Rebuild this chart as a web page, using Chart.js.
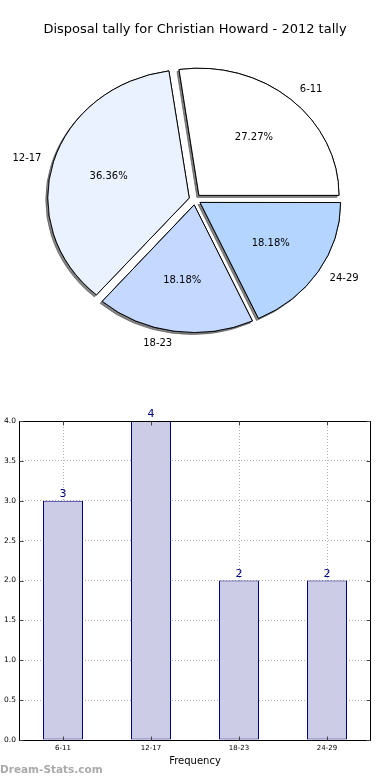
<!DOCTYPE html>
<html>
<head>
<meta charset="utf-8">
<script src="https://cdn.jsdelivr.net/npm/chart.js@4/dist/chart.umd.min.js"></script>
<style>
  body { margin: 0; background: #fff; width: 390px; height: 780px; position: relative; overflow: hidden; }
  #pie { position: absolute; left: 0; top: 0; }
  #bar { position: absolute; left: 0; top: 400px; }
  .mark { position: absolute; left: 0; top: 763px; font: bold 10.5px "DejaVu Sans"; color: #aaa; }
</style>
</head>
<body>
<canvas id="pie" width="390" height="400"></canvas>
<canvas id="bar" width="390" height="380"></canvas>
<div class="mark">Dream-Stats.com</div>
<script>
'use strict';

const categories = ['6-11', '12-17', '18-23', '24-29'];
const tally = [3, 4, 2, 2];
const sliceColors = ['#ffffff', '#eaf1ff', '#c5d8ff', '#b3d5ff'];
const yTicks = [0, 0.5, 1, 1.5, 2, 2.5, 3, 3.5, 4];

const FONT = 'DejaVu Sans';
const RADIUS = 140;
const EXPLODE = 6;
const squash = 128 / 141;   // the original pie is a bit flatter than round

// flip + squash the pie so it runs counter-clockwise from 3 o'clock,
// and lay a grey shadow under the slices first
const ellipse = {
    id: 'ellipse',
    beforeDatasetsDraw(chart) {
        const ctx = chart.ctx;
        const arcs = chart.getDatasetMeta(0).data;
        ctx.save();
        ctx.translate(arcs[0].x, arcs[0].y);
        ctx.scale(1, -squash);
        ctx.translate(-arcs[0].x, -arcs[0].y);
        ctx.save();
        ctx.shadowColor = 'rgba(100,100,100,0.8)';
        ctx.shadowOffsetX = -2;
        ctx.shadowOffsetY = 2;
        ctx.shadowBlur = 0;
        arcs.forEach(a => a.draw(ctx));
        ctx.restore();
    },
    afterDatasetsDraw(chart) {
        const ctx = chart.ctx;
        ctx.restore();
        const total = tally.reduce((s, v) => s + v, 0);
        ctx.save();
        ctx.font = '10px ' + FONT;
        ctx.fillStyle = '#000';
        ctx.textBaseline = 'middle';
        chart.getDatasetMeta(0).data.forEach((arc, i) => {
            const mid = (arc.startAngle + arc.endAngle) / 2;
            const pos = d => [arc.x + Math.cos(mid) * (EXPLODE + d),
                              arc.y - squash * Math.sin(mid) * (EXPLODE + d)];
            let [px, py] = pos(0.6 * RADIUS);
            ctx.textAlign = 'center';
            ctx.fillText((tally[i] / total * 100).toFixed(2) + '%', px, py);
            [px, py] = pos(1.1 * RADIUS);
            ctx.textAlign = Math.cos(mid) > 0 ? 'left' : 'right';
            ctx.fillText(categories[i], px, py);
        });
        ctx.restore();
    }
};

new Chart(document.getElementById('pie'), {
    type: 'pie',
    data: {
        labels: categories,
        datasets: [{
            data: tally,
            backgroundColor: sliceColors,
            borderColor: '#000',
            borderWidth: 1,
            offset: EXPLODE * 4
        }]
    },
    options: {
        responsive: false,
        animation: false,
        rotation: 90,
        radius: RADIUS,
        layout: { padding: { top: 0, bottom: 38.6 } },
        plugins: {
            legend: { display: false },
            tooltip: { enabled: false },
            title: {
                display: true,
                text: 'Disposal tally for Christian Howard - 2012 tally',
                color: '#000',
                font: { family: FONT, size: 13, weight: 'normal', lineHeight: 1.2 },
                padding: { top: 22, bottom: 0 }
            }
        }
    },
    plugins: [ellipse]
});

// box round the plot, inward tick marks and value labels over the bars
const frame = {
    id: 'frame',
    afterDraw(chart) {
        const ctx = chart.ctx;
        const a = chart.chartArea;
        const L = Math.round(a.left) + 0.5, T = Math.round(a.top) + 0.5;
        const R = L + Math.round(a.right - a.left) - 1, B = T + Math.round(a.bottom - a.top);
        ctx.save();
        ctx.strokeStyle = '#000';
        ctx.lineWidth = 1;
        ctx.strokeRect(L, T, R - L, B - T);
        ctx.strokeStyle = '#444';
        ctx.beginPath();
        chart.scales.y.ticks.forEach(t => {
            const y = Math.round(chart.scales.y.getPixelForValue(t.value)) + 0.5;
            ctx.moveTo(L, y); ctx.lineTo(L + 4, y);
            ctx.moveTo(R, y); ctx.lineTo(R - 4, y);
        });
        categories.forEach((c, i) => {
            const x = Math.round(chart.scales.x.getPixelForValue(i)) + 0.5;
            ctx.moveTo(x, T); ctx.lineTo(x, T + 4);
            ctx.moveTo(x, B); ctx.lineTo(x, B - 4);
        });
        ctx.stroke();
        ctx.font = '11px ' + FONT;
        ctx.fillStyle = '#000080';
        ctx.textAlign = 'center';
        ctx.textBaseline = 'bottom';
        chart.getDatasetMeta(0).data.forEach((bar, i) => {
            ctx.fillText(String(tally[i]), bar.x, bar.y - 1);
        });
        ctx.restore();
    }
};

new Chart(document.getElementById('bar'), {
    type: 'bar',
    data: {
        labels: categories,
        datasets: [{
            data: tally,
            backgroundColor: '#ccccE6',
            borderColor: '#000080',
            borderWidth: 1,
            borderSkipped: false,
            categoryPercentage: 1,
            barPercentage: 40 / 88
        }]
    },
    options: {
        responsive: false,
        animation: false,
        layout: { padding: { top: 21, right: 19, left: 0, bottom: 0 } },
        plugins: { legend: { display: false }, tooltip: { enabled: false } },
        scales: {
            x: {
                z: 1,
                offset: true,
                afterFit(scale) { scale.height = 40; },
                grid: { offset: false, drawTicks: false, color: '#b0b0b0', lineWidth: 1 },
                border: { display: false, dash: [1, 2] },
                ticks: { color: '#000', font: { family: FONT, size: 7 }, padding: 4 },
                title: {
                    display: true,
                    text: 'Frequency',
                    color: '#000',
                    font: { family: FONT, size: 10 },
                    padding: { top: 2, bottom: 13 }
                }
            },
            y: {
                z: 1,
                min: 0,
                max: 4,
                afterFit(scale) { scale.width = 19; },
                afterBuildTicks(scale) { scale.ticks = yTicks.map(v => ({ value: v })); },
                grid: { drawTicks: false, color: '#b0b0b0', lineWidth: 1 },
                border: { display: false, dash: [1, 2] },
                ticks: {
                    color: '#000',
                    font: { family: FONT, size: 7.5 },
                    padding: 3,
                    callback: v => Number(v).toFixed(1)
                }
            }
        }
    },
    plugins: [frame]
});
</script>
</body>
</html>
